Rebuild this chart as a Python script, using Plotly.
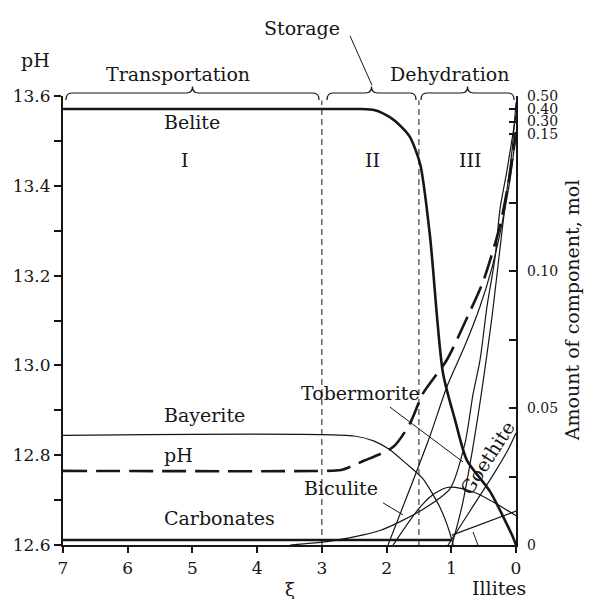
import numpy as np
import plotly.graph_objects as go

# ---------------- data ----------------
xi_ticks = [7, 6, 5, 4, 3, 2, 1, 0]
ph_ticks = [12.6, 12.8, 13.0, 13.2, 13.4, 13.6]
mol_ticks = [0, 0.05, 0.10, 0.15, 0.30, 0.40, 0.50]
mol_tick_text = ["0", "0.05", "0.10", "0.15", "0.30", "0.40", "0.50"]
mol_minor = [0.025, 0.075, 0.125]

# break of the right (amount) axis: linear up to 0.15, then compressed
MOL_BREAKS = [0, 0.15, 0.30, 0.40, 0.50]
AXIS_BREAKS = [0, 0.915, 0.943, 0.971, 1.0]

belite_xi = [7.0, 2.6, 2.41, 2.18, 1.95, 1.79, 1.64, 1.48, 1.33, 1.13, 0.94, 0.76, 0.40, 0.05, 0.0]
belite_mol = [0.40, 0.40, 0.40, 0.39, 0.335, 0.252, 0.149, 0.139, 0.113, 0.063, 0.0455, 0.031, 0.0195, 0.003, 0.0]

ph_xi = [7.0, 3.0, 2.7, 2.36, 1.9, 1.64, 1.44, 1.07, 0.76, 0.5, 0.25, 0.1, 0.0]
ph_val = [12.765, 12.765, 12.767, 12.787, 12.818, 12.870, 12.937, 13.012, 13.105, 13.19, 13.31, 13.42, 13.52]

bayerite_xi = [7.0, 2.5, 2.2, 1.95, 1.7, 1.44, 1.17, 1.02, 0.97]
bayerite_mol = [0.040, 0.0398, 0.038, 0.0348, 0.0298, 0.0242, 0.0135, 0.0043, 0.0]

carbonates_xi = [7.0, 1.0]
carbonates_mol = [0.0018, 0.0018]

biculite_xi = [3.49, 2.874, 2.101, 1.482, 1.019, 0.787, 0.664, 0.556, 0.448, 0.324, 0.247, 0.139, 0.0]
biculite_mol = [0.0, 0.0014, 0.0053, 0.0124, 0.0206, 0.0373, 0.0551, 0.0675, 0.0871, 0.1049, 0.1227, 0.1368, 0.355]

tobermorite_xi = [1.978, 1.638, 1.329, 1.066, 0.788, 0.556, 0.371, 0.216, 0.093, 0.0]
tobermorite_mol = [0.0, 0.0206, 0.0398, 0.0579, 0.0729, 0.0871, 0.1013, 0.1173, 0.1333, 0.15]

steep_xi = [0.989, 0.834, 0.679, 0.525, 0.370, 0.247, 0.139, 0.062, 0.0]
steep_mol = [0.0, 0.0142, 0.0338, 0.0569, 0.0835, 0.1084, 0.1297, 0.1439, 0.45]

goethite_xi = [1.05, 0.788, 0.556, 0.324, 0.123, 0.0]
goethite_mol = [0.0, 0.0096, 0.0181, 0.0267, 0.0348, 0.0409]

hump_xi = [1.9, 1.53, 1.30, 1.066, 0.834, 0.60, 0.324, 0.0]
hump_mol = [0.0, 0.0125, 0.0181, 0.0210, 0.0206, 0.0188, 0.0153, 0.0107]

illites_xi = [0.989, 0.0]
illites_mol = [0.0036, 0.0124]


def amount_axis(v):
    return np.interp(v, MOL_BREAKS, AXIS_BREAKS)


INK = "#161616"
FONT = "DejaVu Serif"
THIN = 1.2
THICK = 2.6

fig = go.Figure()


def amount_line(xs, ys, width, shape="spline", dash="solid"):
    fig.add_trace(go.Scatter(
        x=xs, y=amount_axis(ys), yaxis="y2", mode="lines",
        line=dict(color=INK, width=width, shape=shape, smoothing=0.7, dash=dash),
        hoverinfo="skip", showlegend=False))


amount_line(bayerite_xi, bayerite_mol, THIN)
amount_line(biculite_xi, biculite_mol, THIN)
amount_line(tobermorite_xi, tobermorite_mol, THIN)
amount_line(steep_xi, steep_mol, THIN)
amount_line(goethite_xi, goethite_mol, THIN)
amount_line(hump_xi, hump_mol, THIN)
amount_line(illites_xi, illites_mol, THIN, shape="linear")
amount_line(carbonates_xi, carbonates_mol, THICK, shape="linear")
amount_line(belite_xi, belite_mol, THICK)

fig.add_trace(go.Scatter(
    x=ph_xi, y=ph_val, mode="lines",
    line=dict(color=INK, width=THICK, shape="spline", smoothing=0.7, dash="24px,9px"),
    hoverinfo="skip", showlegend=False))

# stage boundaries
for xb in [3.0, 1.5]:
    fig.add_shape(type="line", xref="x", yref="paper", x0=xb, x1=xb, y0=0, y1=0.99,
                  line=dict(color=INK, width=1, dash="6px,4px"))


# braces above the plot
def brace(x0, x1):
    xm = (x0 + x1) / 2
    d = 0.09
    yb, ye, yt = 1.0067, 0.991, 1.021
    path = (f"M {x0},{ye} Q {x0},{yb} {x0 - d},{yb} L {xm + d},{yb} "
            f"Q {xm},{yb} {xm},{yt} Q {xm},{yb} {xm - d},{yb} "
            f"L {x1 + d},{yb} Q {x1},{yb} {x1},{ye}")
    fig.add_shape(type="path", xref="x", yref="paper", path=path,
                  line=dict(color=INK, width=1.2))


brace(6.954, 3.044)
brace(2.92, 1.545)
brace(1.468, 0.03)

# leader lines
leaders = [
    (1.947, 12.907, 0.819, 12.785),   # Tobermorite
    (2.055, 12.694, 1.746, 12.667),   # Biculite
    (0.401, 12.529, 0.664, 12.629),   # Illites
]
for a, b, c, e in leaders:
    fig.add_shape(type="line", xref="x", yref="y", x0=a, y0=b, x1=c, y1=e,
                  line=dict(color=INK, width=1))
fig.add_shape(type="line", xref="x", yref="paper", x0=2.565, y0=1.134, x1=2.226, y1=1.024,
              line=dict(color=INK, width=1))

ann = []


def label(text, x, y, xanchor="center", yref="y", xref="x", size=19, angle=0):
    ann.append(dict(text=text, x=x, y=y, xref=xref, yref=yref, xanchor=xanchor,
                    yanchor="middle", showarrow=False, textangle=angle,
                    font=dict(family=FONT, size=size, color=INK)))


label("Belite", 5.47, 13.542, xanchor="left")
label("I", 5.11, 13.457)
label("II", 2.21, 13.457)
label("III", 0.71, 13.457)
label("Bayerite", 5.47, 12.8895, xanchor="left")
label("pH", 5.47, 12.80, xanchor="left")
label("Carbonates", 5.47, 12.66, xanchor="left")
label("Biculite", 3.307, 12.727, xanchor="left")
label("Tobermorite", 1.452, 12.9385, xanchor="right")
label("Illites", 0.26, -0.095, yref="paper")
label("Goethite", 0.448, 12.794, angle=-57)
label("Transportation", 5.223, 1.049, yref="paper")
label("Dehydration", 1.02, 1.049, yref="paper")
label("Storage", 3.307, 1.151, yref="paper")
label("pH", -0.06, 1.08, xref="paper", yref="paper")
label("ξ", 3.49, -0.098, yref="paper", size=18)
label("Amount of component, mol", 1.1236, 0.523, xref="paper", yref="paper", angle=-90)

tick_font = dict(family=FONT, size=17, color=INK)

fig.update_layout(
    width=592, height=599,
    margin=dict(l=63, r=76, t=96, b=54),
    paper_bgcolor="white", plot_bgcolor="white",
    annotations=ann,
    xaxis=dict(range=[7, 0], tickvals=xi_ticks, ticks="outside", ticklen=6, tickwidth=1.5,
               tickcolor=INK, showline=True, linewidth=2.2, linecolor=INK, showgrid=False,
               zeroline=False, tickfont=tick_font),
    yaxis=dict(range=[12.6, 13.6], tickvals=ph_ticks, tickformat=".1f", ticks="outside",
               ticklen=7, tickwidth=1.5, tickcolor=INK, showline=True, linewidth=2.2,
               linecolor=INK, showgrid=False, zeroline=False, tickfont=tick_font,
               minor=dict(dtick=0.1, ticks="outside", ticklen=7, tickwidth=1.5, tickcolor=INK)),
    yaxis2=dict(range=[0, 1], overlaying="y", side="right",
                tickvals=list(amount_axis(mol_ticks)), ticktext=mol_tick_text,
                ticks="inside", ticklen=7, tickwidth=1.5, tickcolor=INK,
                showline=True, linewidth=2.2, linecolor=INK, showgrid=False, zeroline=False,
                tickfont=dict(family=FONT, size=14, color=INK), ticklabelstandoff=6,
                minor=dict(tickvals=list(amount_axis(mol_minor)), ticks="inside", ticklen=7,
                           tickwidth=1.5, tickcolor=INK)),
)

fig.write_html("out.html")
